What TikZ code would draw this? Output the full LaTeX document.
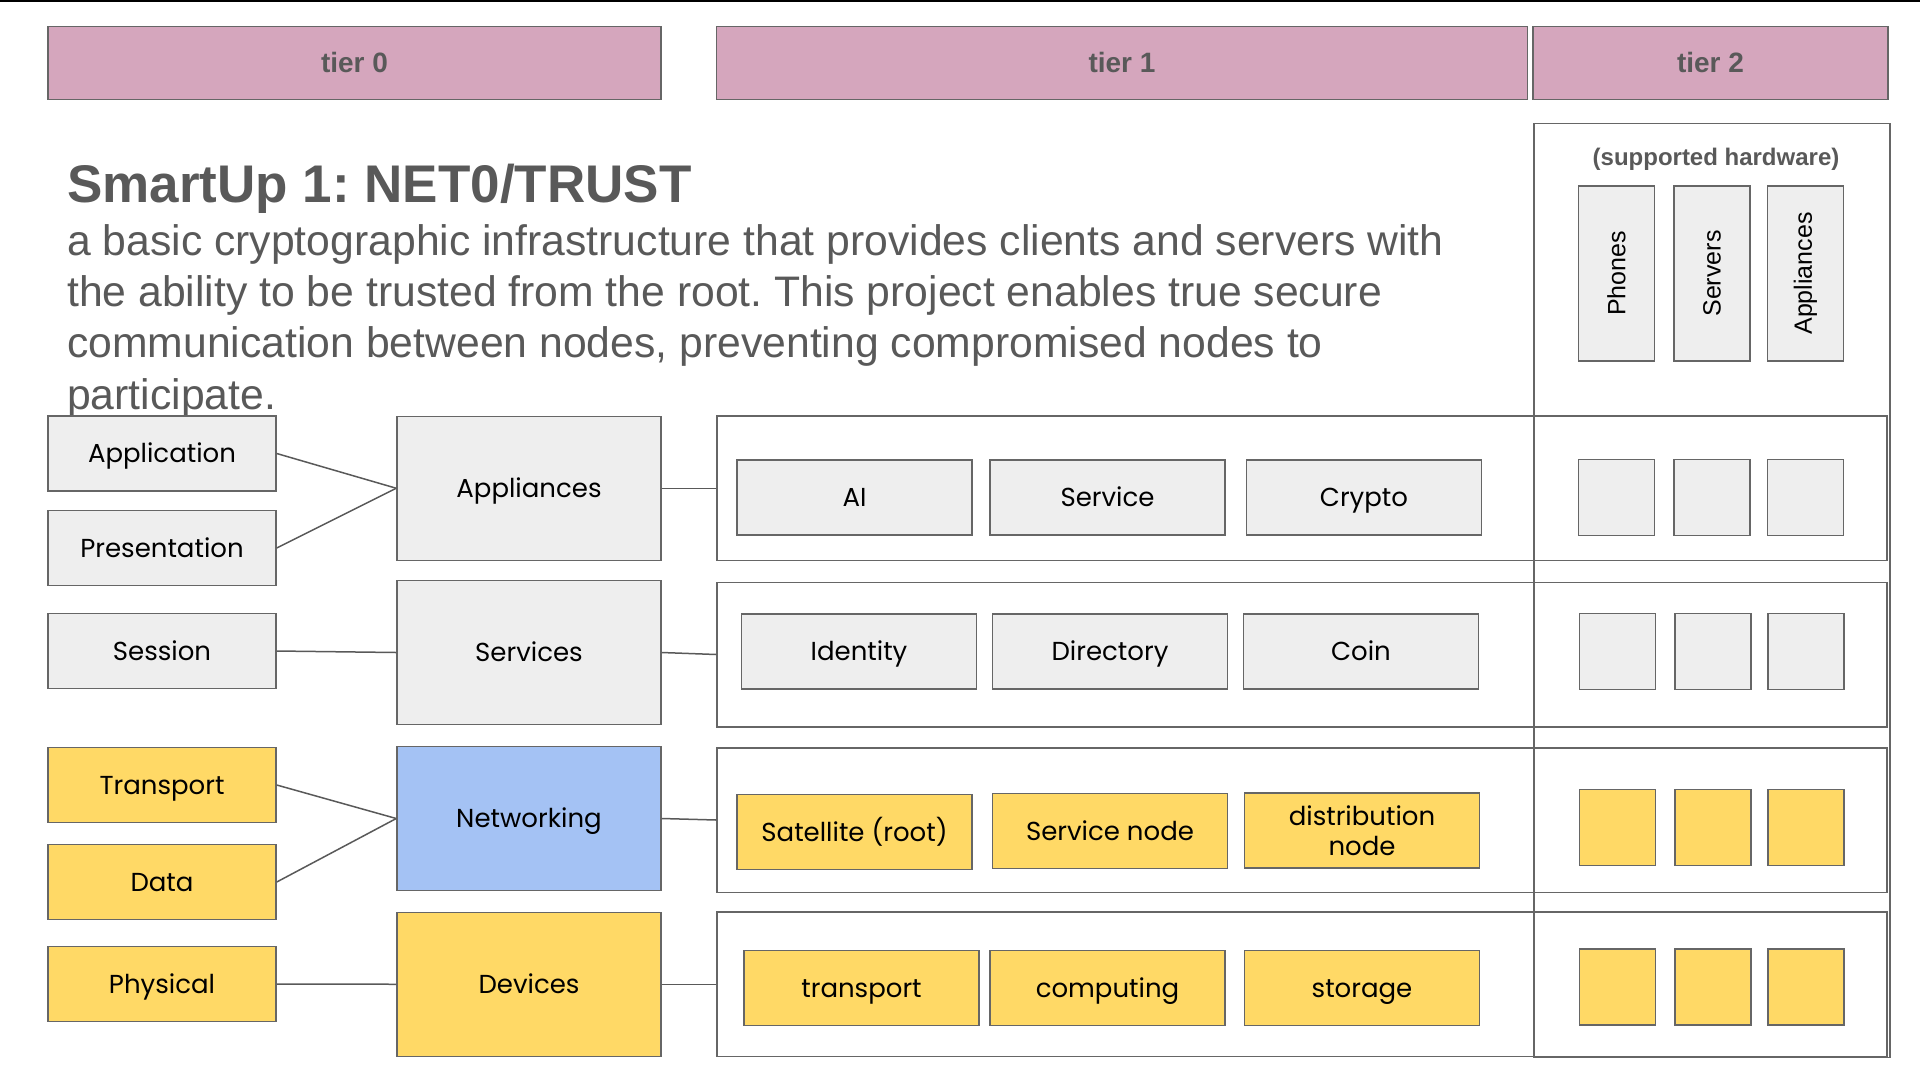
\documentclass[tikz,border=0pt]{standalone}
\usepackage{fontspec}
\setmainfont{Liberation Sans}
\newfontfamily\boxfont{Poppins}
\usepackage{tikz}
\usetikzlibrary{positioning}
\frenchspacing

\definecolor{tierpink}{HTML}{D5A6BD}
\definecolor{boxgrey}{HTML}{EEEEEE}
\definecolor{boxyellow}{HTML}{FFD966}
\definecolor{netblue}{HTML}{A4C2F4}
\definecolor{edgegrey}{HTML}{666666}
\definecolor{textgrey}{HTML}{595959}

\begin{document}
\begin{tikzpicture}[
    x=1pt, y=-1pt,
    tier/.style={rectangle, draw=edgegrey, line width=1.5pt, fill=tierpink, minimum height=73pt, inner sep=0pt, text=textgrey, font=\fontsize{28}{32}\selectfont\bfseries},
    layer/.style={rectangle, draw=edgegrey, line width=1.5pt, minimum width=228pt, minimum height=75pt, inner sep=0pt, text height=18.5pt, text depth=0pt, font=\boxfont\fontsize{26}{30}\selectfont},
    stack/.style={layer, minimum width=264pt, minimum height=144pt},
    item/.style={layer, minimum width=235pt, minimum height=75pt},
    slot/.style={rectangle, draw=edgegrey, line width=1.5pt, minimum width=76pt, minimum height=76pt, inner sep=0pt},
    hw/.style={slot, fill=boxgrey, minimum height=175pt, font=\fontsize{25}{29}\selectfont},
    rowbox/.style={rectangle, draw=edgegrey, line width=1.5pt, fill=white, minimum width=1170pt, minimum height=144.5pt, inner sep=0pt},
    link/.style={draw=textgrey, line width=1.5pt}
]
\useasboundingbox (0,0) rectangle (1920,1080);
\draw[black, line width=2pt] (0,1) -- (1920,1);

% tier headers
\node[tier, minimum width=613pt] (tier0) at (354.5,62.75) {tier 0};
\node[tier, minimum width=811pt] (tier1) at (1122,62.75) {tier 1};
\node[tier, minimum width=355pt] (tier2) at (1710.5,62.75) {tier 2};

% title and text
\node[anchor=base west, inner sep=0pt, text=textgrey, font=\fontsize{53}{60}\selectfont\bfseries] (title) at (67,202) {SmartUp 1: NET0/TRUST};
\node[anchor=north west, inner sep=0pt, align=left, text=textgrey, font=\fontsize{42.7}{51.3}\selectfont] (desc) at (67,219.1)
    {\strut a basic cryptographic infrastructure that provides clients and servers with\\
     the ability to be trusted from the root. This project enables true secure\\
     communication between nodes, preventing compromised nodes to\\
     participate.};

% tier 1 rows
\node[rowbox] (rowA) at (1302,488.25) {};
\node[rowbox] (rowB) at (1302,654.5) {};
\node[rowbox] (rowC) at (1302,820) {};
\node[rowbox] (rowD) at (1302,984.25) {};

% tier 2 column
\node[rectangle, draw=edgegrey, line width=1.5pt, minimum width=356pt, minimum height=934pt, inner sep=0pt, anchor=north west] (hwcol) at (1533,122.5) {};
\node[anchor=base, inner sep=0pt, text=textgrey, font=\fontsize{24}{28}\selectfont\bfseries] (hwtitle) at (1716,165) {(supported hardware)};
\node[hw] (phones) at (1616.5,273.5) {\rotatebox{90}{Phones}};
\node[hw] (servers) at (1712,273.5) {\rotatebox{90}{Servers}};
\node[hw] (hwappl) at (1805.5,273.5) {\rotatebox{90}{Appliances}};

% OSI layers
\node[layer, fill=boxgrey] (application) at (162,453.5) {Application};
\node[layer, fill=boxgrey] (presentation) at (162,548) {Presentation};
\node[layer, fill=boxgrey] (session) at (162,651) {Session};
\node[layer, fill=boxyellow] (transportlayer) at (162,785) {Transport};
\node[layer, fill=boxyellow] (data) at (162,882) {Data};
\node[layer, fill=boxyellow] (physical) at (162,984) {Physical};

% stack
\node[stack, fill=boxgrey] (appliances) at (529,488.25) {Appliances};
\node[stack, fill=boxgrey] (services) at (529,652.5) {Services};
\node[stack, fill=netblue] (networking) at (529,818.5) {Networking};
\node[stack, fill=boxyellow] (devices) at (529,984.25) {Devices};

% tier 1 items
\node[item, fill=boxgrey] (ai) at (854.5,497.5) {AI};
\node[item, fill=boxgrey] (service) at (1107.5,497.5) {Service};
\node[item, fill=boxgrey] (crypto) at (1364,497.5) {Crypto};
\node[item, fill=boxgrey] (identity) at (859,651.5) {Identity};
\node[item, fill=boxgrey] (directory) at (1110,651.5) {Directory};
\node[item, fill=boxgrey] (coin) at (1361,651.5) {Coin};
\node[item, fill=boxyellow] (satellite) at (854.5,832) {Satellite (root)};
\node[item, fill=boxyellow] (servicenode) at (1110,831) {Service node};
\node[item, fill=boxyellow, align=center, text height=, text depth=] (distnode) at (1362,830.5) {distribution\\node};
\node[item, fill=boxyellow] (transportdev) at (861.5,988) {transport};
\node[item, fill=boxyellow] (computing) at (1107.5,988) {computing};
\node[item, fill=boxyellow] (storage) at (1362,988) {storage};

% tier 2 slots
\node[slot, fill=boxgrey] (slotA1) at (1616.5,497.5) {};
\node[slot, fill=boxgrey] (slotA2) at (1712,497.5) {};
\node[slot, fill=boxgrey] (slotA3) at (1805.5,497.5) {};
\node[slot, fill=boxgrey] (slotB1) at (1617.5,651.7) {};
\node[slot, fill=boxgrey] (slotB2) at (1713,651.7) {};
\node[slot, fill=boxgrey] (slotB3) at (1806,651.7) {};
\node[slot, fill=boxyellow] (slotC1) at (1617.5,827.3) {};
\node[slot, fill=boxyellow] (slotC2) at (1713,827.3) {};
\node[slot, fill=boxyellow] (slotC3) at (1806,827.3) {};
\node[slot, fill=boxyellow] (slotD1) at (1617.5,987) {};
\node[slot, fill=boxyellow] (slotD2) at (1713,987) {};
\node[slot, fill=boxyellow] (slotD3) at (1806,987) {};

% connectors
\draw[link] (application.east) -- (appliances.west);
\draw[link] (presentation.east) -- (appliances.west);
\draw[link] (session.east) -- (services.west);
\draw[link] (transportlayer.east) -- (networking.west);
\draw[link] (data.east) -- (networking.west);
\draw[link] (physical.east) -- (devices.west);
\draw[link] (appliances.east) -- (rowA.west);
\draw[link] (services.east) -- (rowB.west);
\draw[link] (networking.east) -- (rowC.west);
\draw[link] (devices.east) -- (rowD.west);

\end{tikzpicture}
\end{document}
